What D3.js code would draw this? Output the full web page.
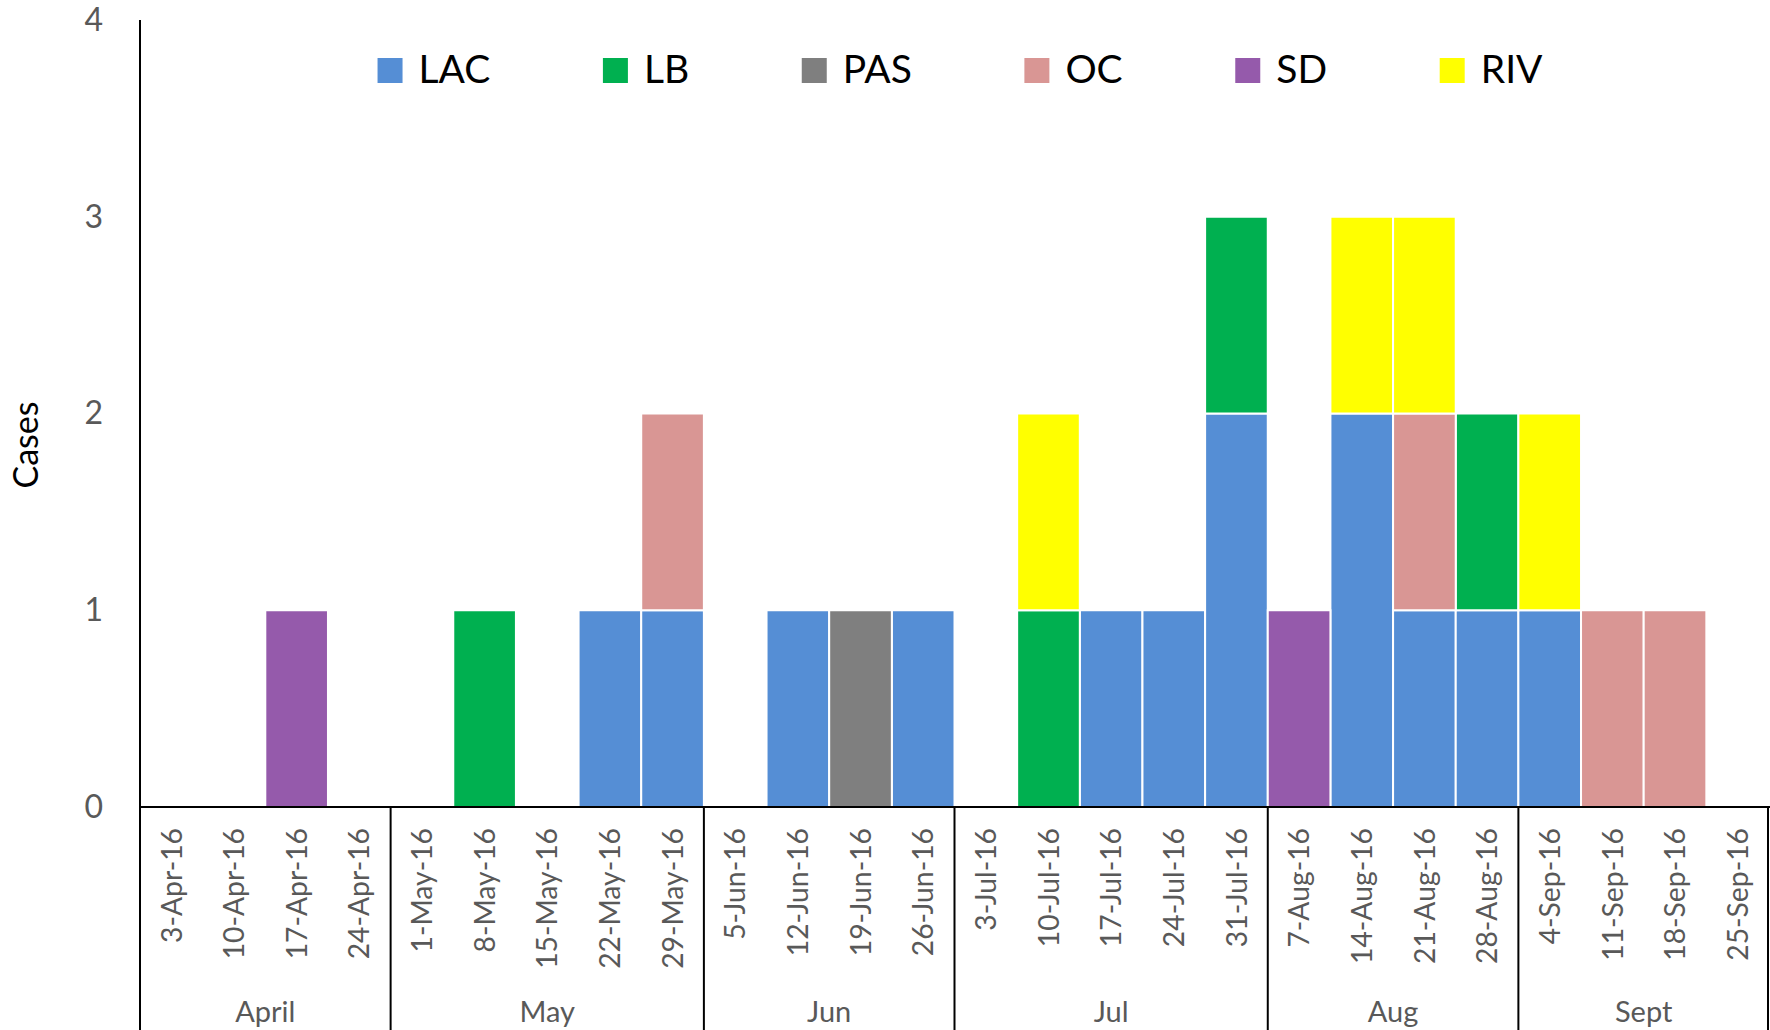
<!DOCTYPE html>
<html>
<head>
<meta charset="utf-8">
<script src="https://cdn.jsdelivr.net/npm/d3@7"></script>
<style>
  html, body { margin: 0; padding: 0; background: #fff; }
  svg { display: block; }
  text { font-family: Lato, "Open Sans", sans-serif; }
</style>
</head>
<body>
<svg id="chart" width="1770" height="1030"></svg>
<script>
// Weekly case counts by jurisdiction, April–September 2016
const weeks = [
  "3-Apr-16", "10-Apr-16", "17-Apr-16", "24-Apr-16",
  "1-May-16", "8-May-16", "15-May-16", "22-May-16", "29-May-16",
  "5-Jun-16", "12-Jun-16", "19-Jun-16", "26-Jun-16",
  "3-Jul-16", "10-Jul-16", "17-Jul-16", "24-Jul-16", "31-Jul-16",
  "7-Aug-16", "14-Aug-16", "21-Aug-16", "28-Aug-16",
  "4-Sep-16", "11-Sep-16", "18-Sep-16", "25-Sep-16"
];
const months = ["April", "May", "Jun", "Jul", "Aug", "Sept"];
const weeksPerMonth = [4, 5, 4, 5, 4, 4];

const seriesNames = ["LAC", "LB", "PAS", "OC", "SD", "RIV"];
const seriesColors = ["#558ED5", "#00B050", "#7F7F7F", "#D99694", "#955AAB", "#FFFF00"];

const LAC = [0,0,0,0, 0,0,0,1,1, 0,1,0,1, 0,0,1,1,2, 0,2,1,1, 1,0,0,0];
const LB  = [0,0,0,0, 0,1,0,0,0, 0,0,0,0, 0,1,0,0,1, 0,0,0,1, 0,0,0,0];
const PAS = [0,0,0,0, 0,0,0,0,0, 0,0,1,0, 0,0,0,0,0, 0,0,0,0, 0,0,0,0];
const OC  = [0,0,0,0, 0,0,0,0,1, 0,0,0,0, 0,0,0,0,0, 0,0,1,0, 0,1,1,0];
const SD  = [0,0,1,0, 0,0,0,0,0, 0,0,0,0, 0,0,0,0,0, 1,0,0,0, 0,0,0,0];
const RIV = [0,0,0,0, 0,0,0,0,0, 0,0,0,0, 0,1,0,0,0, 0,1,1,0, 1,0,0,0];

const yTicks = [0, 1, 2, 3, 4];
const yTitle = "Cases";

// ---- build table for the stack layout ----
const seriesValues = [LAC, LB, PAS, OC, SD, RIV];
const table = weeks.map((w, i) => {
  const row = { week: w };
  seriesNames.forEach((s, k) => { row[s] = seriesValues[k][i]; });
  return row;
});
const stacked = d3.stack().keys(seriesNames)(table);

// ---- layout ----
const W = 1770, H = 1030;
const plotLeft = 140, plotRight = 1769, plotTop = 20, baseline = 807;

const svg = d3.select("#chart");

const x = d3.scaleBand().domain(weeks).range([plotLeft, plotRight]).padding(0);
const y = d3.scaleLinear().domain([0, 4]).range([baseline, plotTop]);
const color = d3.scaleOrdinal().domain(seriesNames).range(seriesColors);

// ---- bars ----
svg.append("g")
  .selectAll("g")
  .data(stacked)
  .join("g")
    .attr("fill", d => color(d.key))
  .selectAll("rect")
  .data(d => d.filter(p => p[1] - p[0] > 0))
  .join("rect")
    .attr("x", d => x(d.data.week))
    .attr("y", d => y(d[1]))
    .attr("width", x.bandwidth())
    .attr("height", d => y(d[0]) - y(d[1]))
    .attr("stroke", "#fff")
    .attr("stroke-width", 2);

// ---- y axis ----
const yAxis = svg.append("g")
  .attr("transform", `translate(${plotLeft},0)`)
  .call(d3.axisLeft(y).tickValues(yTicks).tickSize(0).tickPadding(37).tickFormat(d3.format("d")));
yAxis.select(".domain").remove();
yAxis.selectAll("text")
  .attr("fill", "#595959")
  .style("font-size", "32px")
  .style("font-family", "Lato, sans-serif");

// vertical axis line (continues down through the category area)
svg.append("line")
  .attr("x1", plotLeft).attr("x2", plotLeft)
  .attr("y1", plotTop).attr("y2", H)
  .attr("stroke", "#000").attr("stroke-width", 2);

// ---- x axis (week labels) ----
const xAxis = svg.append("g")
  .attr("transform", `translate(0,${baseline})`)
  .call(d3.axisBottom(x).tickSize(0));
xAxis.select(".domain").remove();
xAxis.selectAll("text")
  .attr("transform", "rotate(-90)")
  .attr("x", -21)
  .attr("y", 0)
  .attr("dy", "0.36em")
  .attr("text-anchor", "end")
  .attr("fill", "#595959")
  .style("font-size", "28.3px")
  .style("font-family", "Lato, sans-serif");

// baseline
svg.append("line")
  .attr("x1", plotLeft).attr("x2", W)
  .attr("y1", baseline).attr("y2", baseline)
  .attr("stroke", "#000").attr("stroke-width", 2.2);

// ---- month groups ----
let start = 0;
const groups = months.map((m, i) => {
  const g = { name: m, first: weeks[start], last: weeks[start + weeksPerMonth[i] - 1] };
  start += weeksPerMonth[i];
  return g;
});

svg.append("g")
  .selectAll("line")
  .data(groups)
  .join("line")
    .attr("x1", d => Math.min(x(d.last) + x.bandwidth(), W - 2))
    .attr("x2", d => Math.min(x(d.last) + x.bandwidth(), W - 2))
    .attr("y1", baseline)
    .attr("y2", H)
    .attr("stroke", "#000")
    .attr("stroke-width", 2);

svg.append("g")
  .selectAll("text")
  .data(groups)
  .join("text")
    .attr("x", d => (x(d.first) + x(d.last) + x.bandwidth()) / 2)
    .attr("y", 1022)
    .attr("text-anchor", "middle")
    .attr("fill", "#595959")
    .style("font-size", "29px")
    .text(d => d.name);

// ---- y axis title ----
svg.append("text")
  .attr("transform", "translate(38,445) rotate(-90)")
  .attr("text-anchor", "middle")
  .attr("fill", "#000")
  .style("font-size", "34px")
  .text(yTitle);

// ---- legend ----
const legend = svg.append("g");
const sw = 25, textGap = 16, itemGap = 112.6;
let cursor = 0;
seriesNames.forEach((s) => {
  const item = legend.append("g").attr("transform", `translate(${cursor},0)`);
  item.append("rect")
    .attr("x", 0).attr("y", 58)
    .attr("width", sw).attr("height", sw)
    .attr("fill", color(s));
  const t = item.append("text")
    .attr("x", sw + textGap)
    .attr("y", 83)
    .attr("fill", "#000")
    .style("font-size", "39px")
    .text(s);
  cursor += sw + textGap + t.node().getComputedTextLength() + itemGap;
});
const legendWidth = cursor - itemGap;
legend.attr("transform", `translate(${(plotLeft + W) / 2 - legendWidth / 2 + 5},0)`);
</script>
</body>
</html>
